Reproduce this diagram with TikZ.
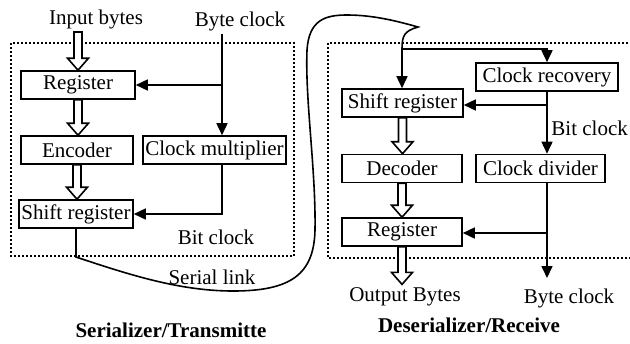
\documentclass[tikz,border=0pt]{standalone}
\usepackage{fontspec}
\setmainfont{Liberation Serif}
\usetikzlibrary{arrows.meta,calc,positioning}

% wide hollow arrow for the byte/data path
\newcommand{\hollowarrow}[2]{%
  \draw[hollow] let \p1=#1, \p2=#2 in
    (\x1-2pt,\y1) -- (\x1-2pt,\y2+6pt) -- (\x1-5.25pt,\y2+6pt) -- (\x1,\y2)
    -- (\x1+5.25pt,\y2+6pt) -- (\x1+2pt,\y2+6pt) -- (\x1+2pt,\y1) -- cycle;}

\begin{document}
\begin{tikzpicture}[x=0.5pt, y=-0.5pt,
    every node/.style={font=\fontsize{10.5}{12}\selectfont},
    box/.style={rectangle, draw, line width=0.8pt, minimum height=14pt, inner sep=1pt},
    lbl/.style={inner sep=1.5pt},
    arr/.style={-{Triangle[length=6pt,width=5.5pt]}, line width=0.8pt},
    wire/.style={line width=0.8pt},
    hollow/.style={line width=0.8pt, fill=white},
    dotbox/.style={line width=1.1pt, dash pattern=on 1pt off 1pt},
    title/.style={font=\fontsize{10.5}{12}\selectfont\bfseries}
]
    \useasboundingbox (0,0) rectangle (630,343);

    % === Left: serializer ===
    \draw[dotbox] (11,43) rectangle (294,256);
    \node[lbl] (inbytes) at (96,19) {Input bytes};
    \node[lbl] (bclkin) at (240,21) {Byte clock};
    \node[box, minimum width=57pt] (reg1) at (78,85) {Register};
    \node[box, minimum width=56pt] (enc) at (77,150) {Encoder};
    \node[box, minimum width=71.5pt] (mult) at (214.5,150) {Clock multiplier};
    \node[box, minimum width=57pt] (shift1) at (76,214) {Shift register};
    \node[lbl] (bitclk1) at (216,237) {Bit clock};
    \node[title] (sertitle) at (171,330) {Serializer/Transmitte};

    \coordinate (bsplit) at (222,85);
    \draw[arr] (bsplit |- bclkin.south) -- (bsplit |- mult.north);
    \draw[arr] (bsplit) -- (reg1.east);
    \draw[arr] (mult.south -| bsplit) |- (shift1.east);

    \hollowarrow{(reg1.north |- inbytes.south)}{(reg1.north)}
    \hollowarrow{(reg1.south)}{(enc.north)}
    \hollowarrow{(enc.south)}{(shift1.north)}

    % === Right: deserializer ===
    \draw[dotbox] (632,43) -- (328,43) -- (328,258) -- (632,258);
    \node[box, minimum width=71pt] (crec) at (547,77) {Clock recovery};
    \node[box, minimum width=60.5pt] (shift2) at (402.5,103) {Shift register};
    \node[box, minimum width=60pt] (dec) at (402,168.5) {Decoder};
    \node[box, minimum width=64.5pt] (cdiv) at (540.5,168.5) {Clock divider};
    \node[box, minimum width=60pt] (reg2) at (402,232) {Register};
    \node[lbl, anchor=west] (bitclk2) at (548,128) {Bit clock};
    \node[lbl] (outbytes) at (405,297) {Output Bytes};
    \node[lbl] (bclkout) at (569,298) {Byte clock};
    \node[title] (destitle) at (469,325) {Deserializer/Receive};

    \coordinate (split) at (402,49);
    \coordinate (rsplit) at (547,105);
    \coordinate (dsplit) at (547,233);
    \coordinate (bout) at (547,278);
    \draw[arr] (split) -- (split |- shift2.north);
    \draw[arr] (split) -| (crec.north);
    \draw[arr] (crec.south) -- (crec.south |- cdiv.north);
    \draw[arr] (rsplit) -- (rsplit -| shift2.east);
    \draw[arr] (crec.south |- cdiv.south) -- (bout);
    \draw[arr] (dsplit) -- (dsplit -| reg2.east);

    \hollowarrow{(shift2.south)}{(dec.north)}
    \hollowarrow{(dec.south)}{(reg2.north)}
    \hollowarrow{(reg2.south)}{(outbytes.north)}

    % Serial link between the two halves
    \draw[wire] (shift1.south) -- (76,257)
        .. controls (130,275) and (180,291) .. (233,291)
        .. controls (290,291) and (314,275) .. (315,230)
        .. controls (316,170) and (305,100) .. (307,50)
        .. controls (309,20) and (325,15) .. (347,15)
        .. controls (375,15) and (400,22) .. (418,27)
        .. controls (404,31) and (402,36) .. (split);
    \node[lbl] (seriallink) at (212,277) {Serial link};
\end{tikzpicture}
\end{document}
